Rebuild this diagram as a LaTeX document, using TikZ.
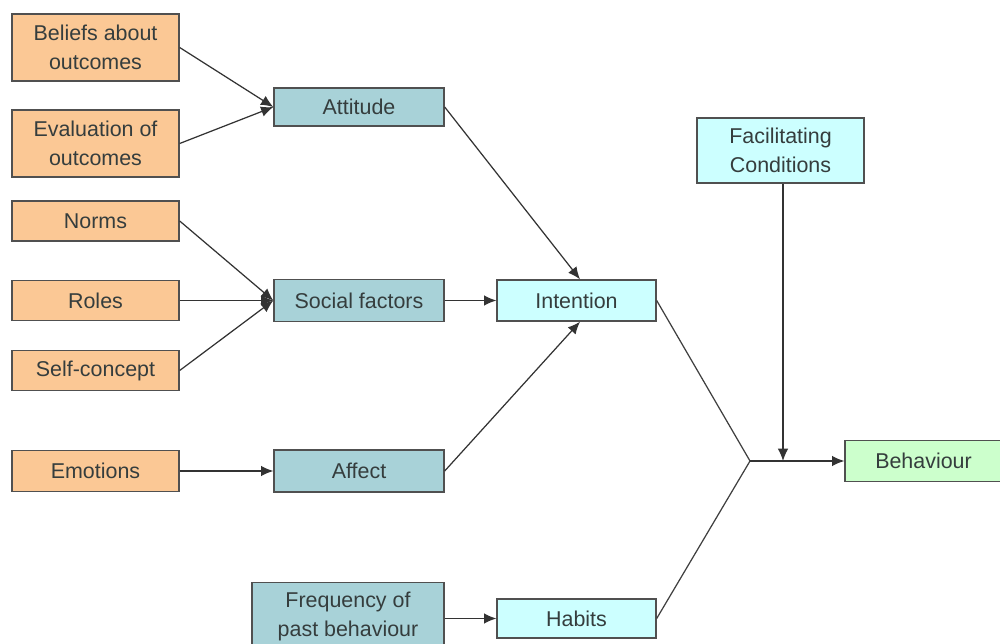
\documentclass[tikz,border=0pt]{standalone}
\usepackage{fontspec}
\setmainfont{Liberation Sans}
\usetikzlibrary{arrows.meta}
\definecolor{peach}{HTML}{FBC895}
\definecolor{teal}{HTML}{A8D2D8}
\definecolor{lcyan}{HTML}{CCFFFF}
\definecolor{lgreen}{HTML}{CCFFCC}
\definecolor{bord}{HTML}{505050}
\definecolor{txt}{HTML}{353D3D}
\begin{document}
\begin{tikzpicture}[x=0.02cm,y=-0.02cm,
  box/.style={draw=bord,line width=0.8pt,inner sep=0pt,align=center,text=txt,
    font=\fontsize{12.2}{16.5}\selectfont},
  src/.style={box,fill=peach,minimum width=3.34cm},
  mid/.style={box,fill=teal,minimum width=3.4cm},
  blu/.style={box,fill=lcyan,minimum width=3.18cm},
  arr/.style={draw=black!80,line width=0.7pt,-{Latex[length=7pt,width=6pt]}},
  ln/.style={draw=black!75,line width=0.7pt}]
\useasboundingbox (0,0) rectangle (1000,644);
\fill[white] (0,0) rectangle (1000,644);
% left column
\node[src,minimum height=1.34cm] (bel) at (95.5,47.5) {Beliefs about\\outcomes};
\node[src,minimum height=1.34cm] (eva) at (95.5,143.5) {Evaluation of\\outcomes};
\node[src,minimum height=0.8cm] (nor) at (95.5,221) {Norms};
\node[src,minimum height=0.8cm] (rol) at (95.5,300.5) {Roles};
\node[src,minimum height=0.8cm] (sel) at (95.5,370.5) {Self-concept};
\node[src,minimum height=0.82cm] (emo) at (95.5,471) {Emotions};
% middle column
\node[mid,minimum height=0.76cm] (att) at (359,107) {Attitude};
\node[mid,minimum height=0.84cm] (soc) at (359,300.5) {Social factors};
\node[mid,minimum height=0.84cm] (aff) at (359,471) {Affect};
\node[box,fill=teal,minimum width=3.84cm,minimum height=1.34cm] (fre) at (348,616) {Frequency of\\past behaviour};
% right
\node[blu,minimum height=0.82cm] (int) at (576.5,300.5) {Intention};
\node[blu,minimum height=0.78cm] (hab) at (576.5,618.5) {Habits};
\node[box,fill=lcyan,minimum width=3.34cm,minimum height=1.3cm] (fac) at (780.5,150.5) {Facilitating\\Conditions};
\node[box,fill=lgreen,minimum width=3.14cm,minimum height=0.82cm] (beh) at (923.5,461) {Behaviour};
\coordinate (j) at (750,461);
% connectors
\draw[arr] (bel.east) -- (att.west);
\draw[arr] (eva.east) -- (att.west);
\draw[arr] (nor.east) -- (soc.west);
\draw[arr] (rol.east) -- (soc.west);
\draw[arr] (sel.east) -- (soc.west);
\draw[arr] (emo.east) -- (aff.west);
\draw[arr] (soc.east) -- (int.west);
\draw[arr] (att.east) -- (int.north -| 580,0);
\draw[arr] (aff.east) -- (int.south -| 580,0);
\draw[arr] (fre.east |- hab.west) -- (hab.west);
\draw[ln] (int.east) -- (j);
\draw[ln] (hab.east) -- (j);
\draw[arr] (j) -- (beh.west);
\draw[arr] (fac.south -| 783,0) -- (j -| 783,0);
\end{tikzpicture}
\end{document}
